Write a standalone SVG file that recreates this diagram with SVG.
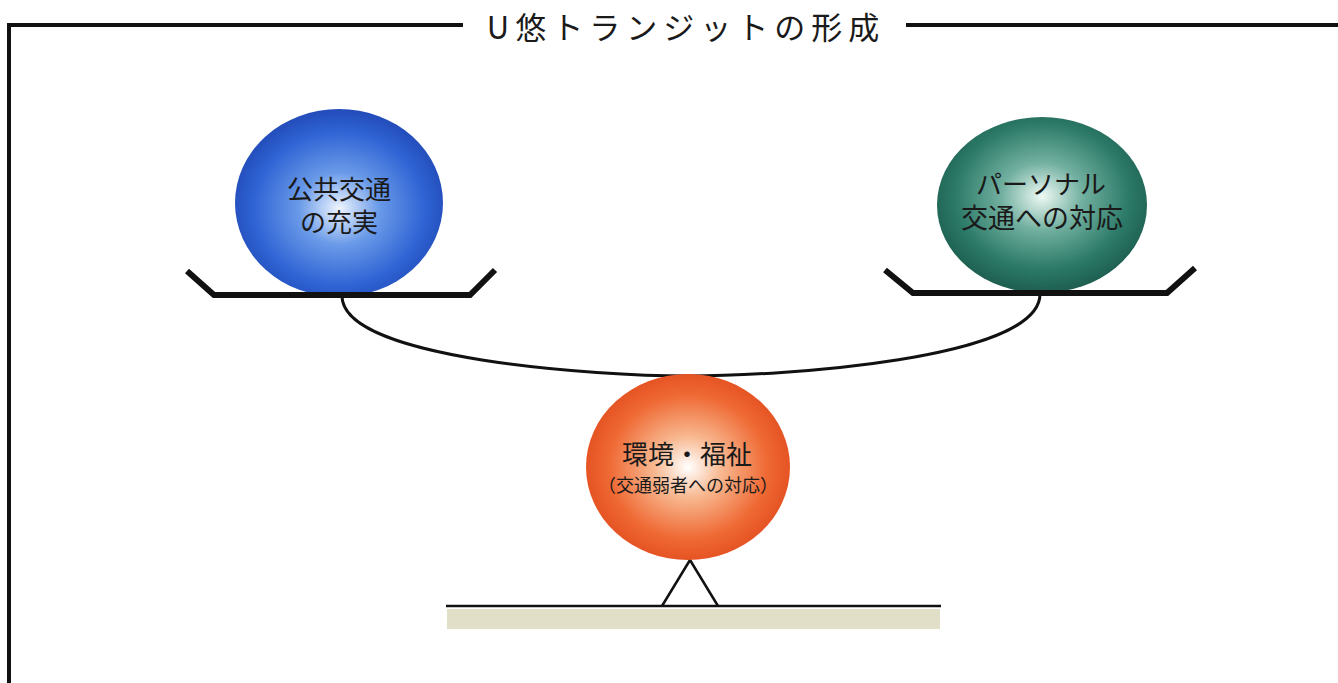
<svg xmlns="http://www.w3.org/2000/svg" width="1338" height="683" viewBox="0 0 1338 683">
<style>
.lbl{font-family:"Liberation Sans","Noto Sans CJK JP",sans-serif;fill:#1a1a1a;text-anchor:middle}
.tray{fill:none;stroke:#111;stroke-width:6;stroke-linejoin:miter}
</style>
<defs>
<radialGradient id="gBlue" cx="0.5" cy="0.53" r="0.55">
<stop offset="0" stop-color="#eef5ff"/>
<stop offset="0.35" stop-color="#6a9ae8"/>
<stop offset="0.75" stop-color="#2f63d4"/>
<stop offset="1" stop-color="#2048b4"/>
</radialGradient>
<radialGradient id="gGreen" cx="0.5" cy="0.45" r="0.55">
<stop offset="0" stop-color="#eef9f4"/>
<stop offset="0.35" stop-color="#72b0a0"/>
<stop offset="0.75" stop-color="#2c7a68"/>
<stop offset="1" stop-color="#1d5e50"/>
</radialGradient>
<radialGradient id="gOrange" cx="0.5" cy="0.5" r="0.55">
<stop offset="0" stop-color="#ffffff"/>
<stop offset="0.3" stop-color="#f8b890"/>
<stop offset="0.7" stop-color="#ef6a35"/>
<stop offset="1" stop-color="#e24a1c"/>
</radialGradient>
</defs>
<rect width="1338" height="683" fill="#ffffff"/>
<g id="frame" fill="none" stroke="#111" stroke-width="4">
<path d="M9,683 V25 H463"/>
<path d="M906,25 H1338"/>
</g>
<text id="title" x="686" y="39" font-family="'Noto Sans CJK JP','Noto Sans',sans-serif" font-size="31" letter-spacing="6" text-anchor="middle" fill="#1a1a1a">U悠トランジットの形成</text>
<g id="connectors">
<path d="M342,296 C342,360 600,376 688,376 C780,376 1040,360 1040,294" fill="none" stroke="#111" stroke-width="3"/>
<path d="M662,606 L690,560 L718,606" fill="none" stroke="#111" stroke-width="2.5"/>
</g>
<g id="ground">
<rect x="447" y="609" width="493" height="20" fill="#e2dfc8"/>
<line x1="446" y1="606" x2="941" y2="606" stroke="#111" stroke-width="2.5"/>
</g>
<g id="node-public">
<ellipse cx="339" cy="203" rx="104" ry="94" fill="url(#gBlue)"/>
<path class="tray" d="M187,271 L214,295 L470,295 L495,270"/>
<text class="lbl" x="339" y="199" font-size="26">公共交通</text>
<text class="lbl" x="339" y="232" font-size="26">の充実</text>
</g>
<g id="node-personal">
<ellipse cx="1042" cy="205" rx="105" ry="88" fill="url(#gGreen)"/>
<path class="tray" d="M885,270 L913,293 L1167,293 L1195,268"/>
<text class="lbl" x="1041" y="194" font-size="26">パーソナル</text>
<text class="lbl" x="1042" y="228" font-size="27">交通への対応</text>
</g>
<g id="node-env">
<ellipse cx="688" cy="467" rx="102" ry="93" fill="url(#gOrange)"/>
<text class="lbl" x="687" y="464" font-size="26">環境・福祉</text>
<text class="lbl" x="688" y="492" font-size="18">（交通弱者への対応）</text>
</g>
</svg>
